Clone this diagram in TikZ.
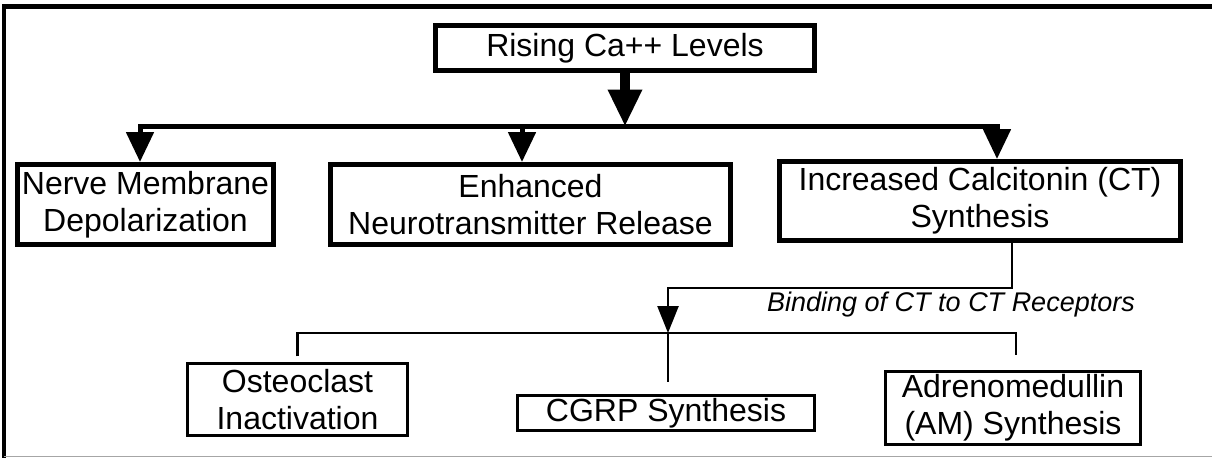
\documentclass[tikz,border=0pt]{standalone}
\usepackage{fontspec}
\setmainfont{Liberation Sans}
\usetikzlibrary{arrows.meta}

\begin{document}
\begin{tikzpicture}[x=1pt,y=-1pt,
    bigbox/.style={draw, rectangle, line width=5pt, inner sep=0pt, align=center,
        font=\fontsize{32}{37}\selectfont},
    smallbox/.style={draw, rectangle, line width=2.5pt, inner sep=0pt, align=center,
        font=\fontsize{32}{37}\selectfont},
    link/.style={line width=2.5pt},
    downarrow/.style={line width=5pt, -{Triangle[length=30pt,width=27pt]}}]
        \useasboundingbox (0,0) rectangle (1212,458);

        % frame
        \draw[line width=4.5pt] (1212,6.5) -- (4,6.5) -- (4,458);
        \draw[gray!70, line width=1pt] (4,456) -- (1212,456);

        \draw (625,48) node [bigbox, minimum width=379pt, minimum height=45pt] (ca) {Rising Ca++ Levels};
        \draw (145.5,204.5) node [bigbox, minimum width=256pt, minimum height=80pt] (nerve) {Nerve Membrane\\ Depolarization};
        \draw (530.5,204.5) node [bigbox, minimum width=400pt, minimum height=80pt] (neuro) {Enhanced\\Neurotransmitter Release};
        \draw (980,201) node [bigbox, minimum width=401pt, minimum height=79pt] (ct) {Increased Calcitonin (CT)\\Synthesis};

        \draw (297.5,399.5) node [smallbox, minimum width=220pt, minimum height=72pt] (osteo) {Osteoclast\\Inactivation};
        \draw (666,413) node [smallbox, minimum width=297pt, minimum height=35pt] (cgrp) {CGRP Synthesis};
        \draw (1013,408) node [smallbox, minimum width=255pt, minimum height=73pt] (am) {Adrenomedullin\\(AM) Synthesis};

        \coordinate (barL) at (140,126.5);
        \coordinate (barM) at (522,126.5);
        \coordinate (barR) at (997,126.5);
        \coordinate (branch) at (668,333);

        \draw[line width=10pt, -{Triangle[length=37pt,width=32pt]}] (ca.south) -- (ca.south |- barL);
        \draw[line width=5pt, line cap=rect] (barL) -- (barR);
        \draw[downarrow] (barL) -- (barL |- nerve.north);
        \draw[downarrow] (barM) -- (barM |- neuro.north);
        \draw[downarrow] (barR) -- (barR |- ct.north);

        \draw[link, -{Triangle[length=27pt,width=21pt]}] ([xshift=32pt]ct.south) -- ++(0,45) -| (branch);
        \draw (951,305) node [font=\fontsize{27}{30}\selectfont\itshape] (bind) {Binding of CT to CT Receptors};

        \draw[link] ([yshift=6pt]osteo.north) -- (osteo.north |- branch) -- ([xshift=3pt]am.north |- branch) -- ([xshift=3pt,yshift=15pt]am.north);
        \draw[link] (branch) -- ([yshift=12pt]cgrp.north -| branch);
    \end{tikzpicture}
\end{document}
